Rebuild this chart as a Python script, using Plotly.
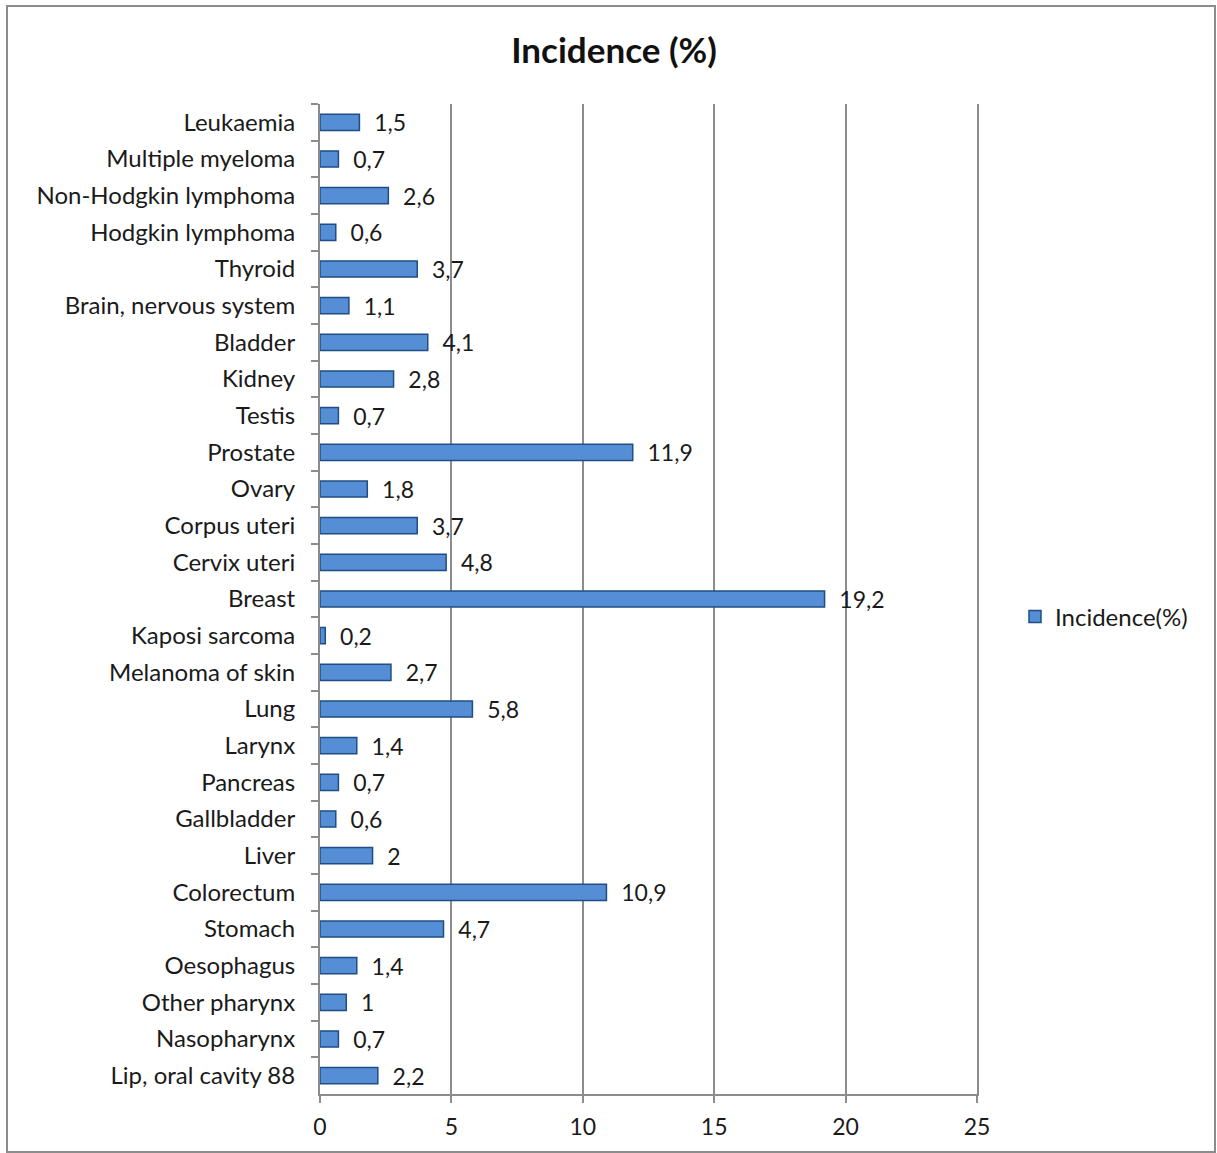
import plotly.graph_objects as go

categories = ["Leukaemia", "Multiple myeloma", "Non-Hodgkin lymphoma", "Hodgkin lymphoma",
              "Thyroid", "Brain, nervous system", "Bladder", "Kidney", "Testis", "Prostate",
              "Ovary", "Corpus uteri", "Cervix uteri", "Breast", "Kaposi sarcoma",
              "Melanoma of skin", "Lung", "Larynx", "Pancreas", "Gallbladder", "Liver",
              "Colorectum", "Stomach", "Oesophagus", "Other pharynx", "Nasopharynx",
              "Lip, oral cavity 88"]
incidence = [1.5, 0.7, 2.6, 0.6, 3.7, 1.1, 4.1, 2.8, 0.7, 11.9, 1.8, 3.7, 4.8, 19.2, 0.2,
             2.7, 5.8, 1.4, 0.7, 0.6, 2, 10.9, 4.7, 1.4, 1, 0.7, 2.2]
x_ticks = [0, 5, 10, 15, 20, 25]

labels = ["  " + f"{v:g}".replace(".", ",") for v in incidence]

FONT = "Lato"
W, H = 1217, 1153
L, R, T, B = 320, 1217 - 977, 104, 1153 - 1094
pw, ph = W - L - R, H - T - B

fig = go.Figure(go.Bar(
    y=categories, x=incidence, orientation="h", name="Incidence(%)",
    marker=dict(color="#558ED5", line=dict(color="#1F4E84", width=1.5)),
    text=labels, textposition="outside", cliponaxis=False, constraintext="none",
    textfont=dict(size=23, color="#1a1a1a", family=FONT),
    showlegend=True,
))

def px_x(p):
    return (p - L) / pw

def px_y(p):
    return (H - B - p) / ph

fig.update_layout(
    width=W, height=H,
    margin=dict(l=L, r=R, t=T, b=B),
    paper_bgcolor="white", plot_bgcolor="white",
    font=dict(family=FONT, size=24, color="#1a1a1a"),
    bargap=0.56,
    title=dict(text="<b>Incidence (%)</b>", x=614 / W, xanchor="center",
               y=1 - 51 / H, yanchor="middle", font=dict(size=35, color="#111")),
    legend=dict(x=px_x(1015), y=px_y(617), xanchor="left", yanchor="middle",
                font=dict(size=24), bgcolor="rgba(0,0,0,0)", itemwidth=30),
    xaxis=dict(range=[0, 25], tickvals=x_ticks, showgrid=True, gridcolor="#8c8c8c",
               gridwidth=2, showline=True, linecolor="#8c8c8c", linewidth=2,
               ticks="outside", ticklen=7, tickcolor="#8c8c8c", tickwidth=2,
               zeroline=False, tickfont=dict(size=23), ticklabelstandoff=4),
    yaxis=dict(autorange="reversed", showline=True, linecolor="#8c8c8c", linewidth=2,
               mirror=True,
               ticks="outside", tickson="boundaries", ticklen=7, tickcolor="#8c8c8c",
               tickwidth=2, showgrid=False, tickfont=dict(size=24), ticklabelstandoff=18),
    shapes=[dict(type="rect", xref="paper", yref="paper",
                 x0=px_x(7), x1=px_x(1215), y0=px_y(1152), y1=px_y(6),
                 line=dict(color="#8c8c8c", width=2), fillcolor="rgba(0,0,0,0)", layer="below")],
)

fig.write_html("out.html")
